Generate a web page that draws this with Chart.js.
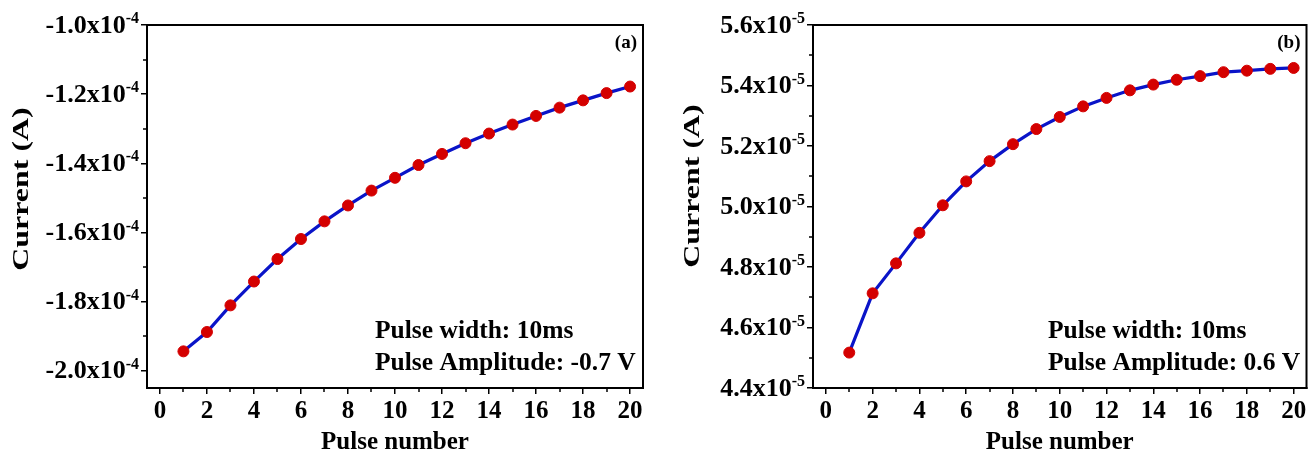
<!DOCTYPE html>
<html>
<head>
<meta charset="utf-8">
<script src="https://cdn.jsdelivr.net/npm/chart.js@4.4.1/dist/chart.umd.min.js"></script>
<style>
  html, body { margin: 0; padding: 0; background: #fff; }
  #wrap { position: relative; width: 1313px; height: 461px; overflow: hidden; }
  canvas { position: absolute; top: 0; }
</style>
</head>
<body>
<div id="wrap">
  <canvas id="ca" width="656" height="461" style="left:0;width:656px;height:461px"></canvas>
  <canvas id="cb" width="657" height="461" style="left:656px;width:657px;height:461px"></canvas>
</div>
<script>
// ---- data ----
const pulseNumbers = [1,2,3,4,5,6,7,8,9,10,11,12,13,14,15,16,17,18,19,20];
const currentA = [-1.944e-4,-1.888e-4,-1.811e-4,-1.742e-4,-1.677e-4,-1.619e-4,-1.568e-4,-1.522e-4,-1.479e-4,-1.442e-4,
                  -1.405e-4,-1.373e-4,-1.342e-4,-1.314e-4,-1.288e-4,-1.263e-4,-1.239e-4,-1.218e-4,-1.197e-4,-1.178e-4];
const currentB = [4.517e-5,4.713e-5,4.812e-5,4.913e-5,5.004e-5,5.083e-5,5.150e-5,5.206e-5,5.256e-5,5.296e-5,
                  5.331e-5,5.359e-5,5.384e-5,5.403e-5,5.419e-5,5.431e-5,5.444e-5,5.449e-5,5.455e-5,5.458e-5];
const xTicks = [0,2,4,6,8,10,12,14,16,18,20];
const xMinorTicks = [1,3,5,7,9,11,13,15,17,19];
const yTicksA = [-2.0e-4,-1.8e-4,-1.6e-4,-1.4e-4,-1.2e-4,-1.0e-4];
const yTickLabelsA = ['-2.0x10','-1.8x10','-1.6x10','-1.4x10','-1.2x10','-1.0x10'];
const yMinorA = [-1.9e-4,-1.7e-4,-1.5e-4,-1.3e-4,-1.1e-4];
const yExpA = '-4';
const yTicksB = [4.4e-5,4.6e-5,4.8e-5,5.0e-5,5.2e-5,5.4e-5,5.6e-5];
const yTickLabelsB = ['4.4x10','4.6x10','4.8x10','5.0x10','5.2x10','5.4x10','5.6x10'];
const yMinorB = [4.5e-5,4.7e-5,4.9e-5,5.1e-5,5.3e-5,5.5e-5];
const yExpB = '-5';
const notesA = ['Pulse width: 10ms', 'Pulse Amplitude: -0.7 V'];
const notesB = ['Pulse width: 10ms', 'Pulse Amplitude: 0.6 V'];
const xTitle = 'Pulse number';
const yTitle = 'Current (A)';

const FONT = '"Liberation Serif", "Times New Roman", serif';
const BLUE = '#0a14c8';
const RED = '#d40000';

function makeChart(id, values, opts) {
  const decor = {
    id: 'decor',
    afterDraw(chart) {
      const ctx = chart.ctx;
      const a = chart.chartArea;
      const xs = chart.scales.x, ys = chart.scales.y;
      ctx.save();
      // frame top & right
      ctx.strokeStyle = '#000';
      ctx.lineWidth = 2;
      ctx.beginPath();
      ctx.moveTo(a.left - 1, a.top);
      ctx.lineTo(a.right, a.top);
      ctx.lineTo(a.right, a.bottom + 1);
      ctx.stroke();
      // minor ticks
      ctx.lineWidth = 1.5;
      ctx.beginPath();
      xMinorTicks.forEach(v => {
        const px = Math.round(xs.getPixelForValue(v));
        ctx.moveTo(px, a.bottom); ctx.lineTo(px, a.bottom + 4);
      });
      opts.yMinor.forEach(v => {
        const py = Math.round(ys.getPixelForValue(v));
        ctx.moveTo(a.left, py); ctx.lineTo(a.left - 4, py);
      });
      ctx.stroke();
      // y tick labels with superscript exponent
      ctx.fillStyle = '#000';
      const mainFont = 'bold 26px ' + FONT;
      const expFont = 'bold 16px ' + FONT;
      ctx.font = expFont;
      const we = ctx.measureText(opts.exp).width;
      const rightEdge = a.left - 8;
      opts.yTicks.forEach((v, i) => {
        const py = ys.getPixelForValue(v);
        ctx.font = mainFont;
        ctx.textAlign = 'right';
        ctx.textBaseline = 'middle';
        ctx.fillText(opts.yLabels[i], rightEdge - we, py + 1);
        ctx.font = expFont;
        ctx.textAlign = 'left';
        ctx.fillText(opts.exp, rightEdge - we, py - 6);
      });
      // y axis title (elongated like the reference)
      ctx.save();
      ctx.translate(opts.yTitleX, opts.yTitleY);
      ctx.rotate(-Math.PI / 2);
      ctx.scale(1.33, 1);
      ctx.font = 'bold 24px ' + FONT;
      ctx.textAlign = 'center';
      ctx.textBaseline = 'middle';
      ctx.fillText(yTitle, 0, 0);
      ctx.restore();
      // panel label
      ctx.font = 'bold 19px ' + FONT;
      ctx.textAlign = 'right';
      ctx.textBaseline = 'middle';
      ctx.fillText(opts.panel, a.right - 6, a.top + 18);
      // annotations
      ctx.font = 'bold 25.5px ' + FONT;
      ctx.textAlign = 'left';
      ctx.fillText(opts.notes[0], opts.noteX, 331);
      ctx.fillText(opts.notes[1], opts.noteX, 363);
      ctx.restore();
    }
  };
  return new Chart(document.getElementById(id), {
    type: 'line',
    data: {
      datasets: [{
        data: pulseNumbers.map((x, i) => ({ x, y: values[i] })),
        borderColor: BLUE,
        borderWidth: 3.2,
        pointRadius: 5.5,
        pointBackgroundColor: RED,
        pointBorderColor: RED,
        pointBorderWidth: 1,
        tension: 0,
        fill: false
      }]
    },
    plugins: [decor],
    options: {
      responsive: false,
      animation: false,
      events: [],
      layout: { padding: { left: 0, top: 25, right: opts.padRight, bottom: 0 } },
      plugins: { legend: { display: false }, tooltip: { enabled: false } },
      scales: {
        x: {
          type: 'linear',
          min: -0.55, max: 20.55,
          afterFit: s => { s.height = 73; },
          afterBuildTicks: s => { s.ticks = xTicks.map(v => ({ value: v })); },
          grid: { drawOnChartArea: false, drawTicks: true, tickLength: 6, color: '#000', lineWidth: 1.5 },
          border: { display: true, color: '#000', width: 2 },
          ticks: { color: '#000', padding: 3, maxRotation: 0, autoSkip: false,
                   font: { family: FONT, weight: 'bold', size: 25 } },
          title: { display: true, text: xTitle, color: '#000',
                   font: { family: FONT, weight: 'bold', size: 25 }, padding: { top: 0, bottom: 3 } }
        },
        y: {
          type: 'linear',
          min: opts.ymin, max: opts.ymax,
          afterFit: s => { s.width = opts.yWidth; },
          afterBuildTicks: s => { s.ticks = opts.yTicks.map(v => ({ value: v })); },
          grid: { drawOnChartArea: false, drawTicks: true, tickLength: 6, color: '#000', lineWidth: 1.5 },
          border: { display: true, color: '#000', width: 2 },
          ticks: { callback: () => '', padding: 0 },
          title: { display: false }
        }
      }
    }
  });
}

makeChart('ca', currentA, {
  ymin: -2.05e-4, ymax: -1.0e-4, yWidth: 147, padRight: 13,
  yTicks: yTicksA, yLabels: yTickLabelsA, yMinor: yMinorA, exp: yExpA,
  panel: '(a)', notes: notesA, noteX: 375, yTitleX: 22, yTitleY: 189
});
makeChart('cb', currentB, {
  ymin: 4.4e-5, ymax: 5.6e-5, yWidth: 157, padRight: 3,
  yTicks: yTicksB, yLabels: yTickLabelsB, yMinor: yMinorB, exp: yExpB,
  panel: '(b)', notes: notesB, noteX: 1048 - 656, yTitleX: 693 - 656, yTitleY: 186
});
</script>
</body>
</html>
